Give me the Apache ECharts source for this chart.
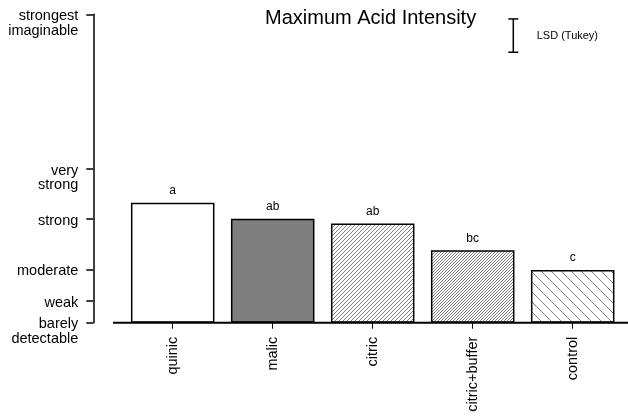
<!DOCTYPE html>
<html lang="en">
  <head>
    <meta charset="UTF-8" />
    <title>Maximum Acid Intensity</title>
    <script src="https://cdn.jsdelivr.net/npm/echarts@6/dist/echarts.min.js"></script>
  </head>
  <body style="margin: 0">
    <div id="container" style="width: 628px; height: 416px"></div>
    <script>
      // data
      const categories = ["quinic", "malic", "citric", "citric+buffer", "control"];
      const intensity = [38.9, 33.7, 32.2, 23.5, 17.1];
      const groupLetters = ["a", "ab", "ab", "bc", "c"];
      const scaleValues = [0, 7.0, 17.3, 33.6, 49.8, 100];
      const scaleLabels = [
        "barely\ndetectable",
        "weak",
        "moderate",
        "strong",
        "very\nstrong",
        "strongest\nimaginable"
      ];
      // LSD (Tukey) bar: [category slot, bottom, top]
      const lsdBar = [3, 87.7, 98.5];

      const FONT = "Liberation Sans, Arial, Helvetica, sans-serif";

      // hatch tile: dir 1 = "/", -1 = "\"
      function hatch(size, dir, color, width) {
        const c = document.createElement("canvas");
        c.width = size;
        c.height = size;
        const ctx = c.getContext("2d");
        ctx.fillStyle = "#fff";
        ctx.fillRect(0, 0, size, size);
        ctx.strokeStyle = color;
        ctx.lineWidth = width;
        for (let k = -size; k <= size; k += size) {
          ctx.beginPath();
          if (dir > 0) {
            ctx.moveTo(k, size);
            ctx.lineTo(k + size, 0);
          } else {
            ctx.moveTo(k, 0);
            ctx.lineTo(k + size, size);
          }
          ctx.stroke();
        }
        return { image: c, repeat: "repeat" };
      }

      const fills = [
        "#ffffff",
        "#7f7f7f",
        hatch(4, 1, "#808080", 1),
        hatch(3, 1, "#808080", 1),
        hatch(10, -1, "#808080", 1)
      ];

      const dom = document.getElementById("container");
      const myChart = echarts.init(dom, null, { renderer: "canvas" });

      const option = {
        animation: false,
        backgroundColor: "#fff",
        textStyle: { fontFamily: FONT, color: "#000" },
        title: {
          text: "Maximum Acid Intensity",
          left: 265,
          top: 8,
          padding: 0,
          textStyle: { fontFamily: FONT, fontSize: 20, fontWeight: "normal", color: "#000" }
        },
        grid: {
          left: 122.7,
          right: 5.3,
          top: 14.3,
          bottom: 93.3,
          outerBoundsMode: "none"
        },
        xAxis: {
          type: "category",
          data: categories,
          axisLine: { show: false },
          axisTick: { show: true, alignWithLabel: true, length: 6, lineStyle: { color: "#000", width: 1 } },
          axisLabel: {
            rotate: 90,
            margin: 14,
            fontSize: 14.5,
            fontFamily: FONT,
            color: "#000"
          }
        },
        yAxis: {
          type: "value",
          min: 0,
          max: 100,
          offset: 29.4,
          splitLine: { show: false },
          axisLine: { show: true, lineStyle: { color: "#000", width: 1.5 } },
          axisTick: {
            show: true,
            length: 7,
            customValues: scaleValues,
            lineStyle: { color: "#000", width: 1.5 }
          },
          axisLabel: {
            customValues: scaleValues,
            showMinLabel: true,
            showMaxLabel: true,
            margin: 15,
            fontSize: 14.5,
            lineHeight: 14.5,
            fontFamily: FONT,
            color: "#000",
            align: "right",
            // first line sits on the tick, second line hangs below
            verticalAlign: "top",
            padding: [-5.5, 0, 0, 0],
            formatter: function (v) {
              let idx = 0;
              scaleValues.forEach((s, i) => {
                if (Math.abs(s - v) < Math.abs(scaleValues[idx] - v)) idx = i;
              });
              return scaleLabels[idx];
            }
          }
        },
        series: [
          {
            type: "bar",
            data: intensity.map((v, i) => ({
              value: v,
              itemStyle: { color: fills[i] }
            })),
            barCategoryGap: "16.5%",
            itemStyle: { borderColor: "#000", borderWidth: 1.5 },
            label: {
              show: true,
              position: "top",
              distance: 6,
              fontSize: 12,
              fontFamily: FONT,
              color: "#000",
              formatter: p => groupLetters[p.dataIndex]
            }
          },
          {
            type: "custom",
            data: [lsdBar],
            renderItem: function (params, api) {
              const top = api.coord([api.value(0), api.value(2)]);
              const bot = api.coord([api.value(0), api.value(1)]);
              const band = api.size([1, 0])[0];
              const x = top[0] + band * 0.406;
              const st = { stroke: "#000", lineWidth: 1.5 };
              return {
                type: "group",
                children: [
                  { type: "line", shape: { x1: x, y1: top[1], x2: x, y2: bot[1] }, style: st },
                  { type: "line", shape: { x1: x - 5, y1: top[1], x2: x + 5, y2: top[1] }, style: st },
                  { type: "line", shape: { x1: x - 5, y1: bot[1], x2: x + 5, y2: bot[1] }, style: st },
                  {
                    type: "text",
                    style: {
                      text: "LSD (Tukey)",
                      x: x + 23.4,
                      y: (top[1] + bot[1]) / 2,
                      verticalAlign: "middle",
                      fontSize: 11,
                      fontFamily: FONT,
                      fill: "#000"
                    }
                  }
                ]
              };
            }
          }
        ]
      };
      myChart.setOption(option);

      // long baseline under the bars, running past the first band
      const baseY = myChart.convertToPixel({ yAxisIndex: 0 }, 0);
      myChart.setOption({
        graphic: [
          {
            type: "line",
            shape: { x1: 113, y1: baseY, x2: 628, y2: baseY },
            style: { stroke: "#000", lineWidth: 2 },
            z: 10
          }
        ]
      });
    </script>
  </body>
</html>
